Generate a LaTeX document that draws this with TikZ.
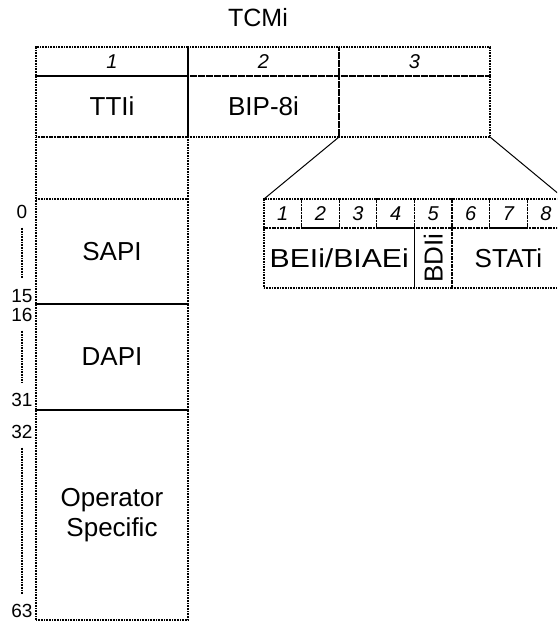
\documentclass[tikz,border=0pt]{standalone}
\usepackage{fontspec}
\setmainfont{Liberation Sans}

\begin{document}
\begin{tikzpicture}[x=1pt,y=-1pt]
\tikzstyle{every node}=[inner sep=0pt, outer sep=0pt]
\tikzstyle{cell}=[draw=black, line width=1.2pt, dash pattern=on 1pt off 0.6pt, anchor=north west, font=\fontsize{26}{30}\selectfont]
\tikzstyle{idx}=[cell, minimum height=29pt, font=\fontsize{20}{22}\selectfont\itshape]
\tikzstyle{num}=[font=\fontsize{19}{20}\selectfont, text height=13pt, text depth=0pt]
\tikzstyle{tick}=[draw=black, line width=1.2pt, dash pattern=on 1pt off 0.6pt, shorten <=9pt, shorten >=11pt]
\useasboundingbox (0,0) rectangle (557,623);
\clip (0,0) rectangle (557,623);

\draw (258,18) node (tcm) [font=\fontsize{25}{28}\selectfont] {TCMi};
% TCMi octets
\draw (36,47) node (o1) [idx,minimum width=152pt] {1};
\draw (188,47) node (o2) [idx,minimum width=151pt] {2};
\draw (339,47) node (o3) [idx,minimum width=151pt] {3};
\draw (36,76) node (tti) [cell,minimum width=152pt,minimum height=61pt] {TTIi};
\draw (188,76) node (bip) [cell,minimum width=151pt,minimum height=61pt] {BIP-8i};
\draw (339,76) node (stat) [cell,minimum width=151pt,minimum height=61pt] {};
\draw (36,137) node (ttx) [cell,minimum width=152pt,minimum height=62pt] {};
% TTIi structure
\draw (36,199) node (sapi) [cell,minimum width=152pt,minimum height=105pt] {SAPI};
\draw (36,304) node (dapi) [cell,minimum width=152pt,minimum height=106pt] {DAPI};
\draw (36,410) node (opsp) [cell,minimum width=152pt,minimum height=210pt,align=center] {Operator\\Specific};
\draw (22,212) node (n0) [num] {0};
\draw (22,296) node (n15) [num] {15};
\draw (22,315) node (n16) [num] {16};
\draw (22,400) node (n31) [num] {31};
\draw (22,432) node (n32) [num] {32};
\draw (22,611) node (n63) [num] {63};
\draw[tick] (n0) -- (n15);
\draw[tick] (n16) -- (n31);
\draw[tick] (n32) -- (n63);
% octet 3 bits
\draw (264,199) node (b1) [idx,minimum width=37.6pt] {1};
\draw (301.6,199) node (b2) [idx,minimum width=37.6pt] {2};
\draw (339.2,199) node (b3) [idx,minimum width=37.6pt] {3};
\draw (376.8,199) node (b4) [idx,minimum width=37.6pt] {4};
\draw (414.4,199) node (b5) [idx,minimum width=37.6pt] {5};
\draw (452,199) node (b6) [idx,minimum width=37.6pt] {6};
\draw (489.6,199) node (b7) [idx,minimum width=37.6pt] {7};
\draw (527.2,199) node (b8) [idx,minimum width=37.6pt] {8};
\draw (264,228) node (bei) [cell,minimum width=150.4pt,minimum height=60pt] {\scalebox{1.16}[1]{BEIi/BIAEi}};
\draw (414.4,228) node (bdi) [cell,minimum width=37.6pt,minimum height=60pt] {\rotatebox{90}{BDIi}};
\draw (452,228) node (sti) [cell,minimum width=112.8pt,minimum height=60pt] {STATi};
\draw[line width=1pt] (stat.south west) -- (b1.north west);
\draw[line width=1pt] (stat.south east) -- (b8.north east);
\end{tikzpicture}
\end{document}
